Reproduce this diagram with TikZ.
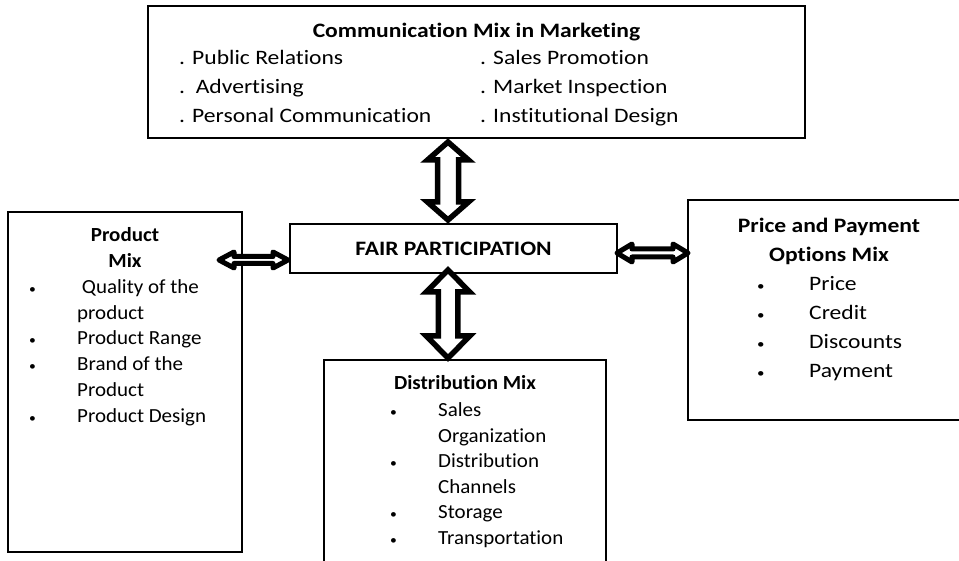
\documentclass[tikz,border=0pt]{standalone}
\usepackage{fontspec}
\setmainfont{Carlito}[FakeStretch=1.05, Ligatures=NoCommon]
\newfontfamily\widefont{Carlito}[FakeStretch=1.15, Ligatures=NoCommon]
\usetikzlibrary{calc}
% hollow double arrow: (from)(to)(shaft half width:head half width:head length)
\def\fatarrow[#1](#2)(#3)(#4:#5:#6){%
	\coordinate (fa0) at (#2);
	\coordinate (fb0) at (#3);
	\coordinate (fa1) at ($(fa0)!#6!(fb0)$);
	\coordinate (fb1) at ($(fb0)!#6!(fa0)$);
	\draw[#1] (fa0) -- ($(fa1)!#5!90:(fb0)$) -- ($(fa1)!#4!90:(fb0)$) -- ($(fb1)!#4!-90:(fa0)$) -- ($(fb1)!#5!-90:(fa0)$) -- (fb0)
		-- ($(fb1)!#5!90:(fa0)$) -- ($(fb1)!#4!90:(fa0)$) -- ($(fa1)!#4!-90:(fb0)$) -- ($(fa1)!#5!-90:(fb0)$) -- cycle;}
\newcommand\itembullet{{\fontsize{13}{13}\selectfont\textbullet}}
\tikzset{
	box/.style={draw, line width=1.5pt, inner sep=0pt, outer sep=0pt, anchor=north west},
	txt/.style={inner sep=0pt, font=\fontsize{20}{25.8}\selectfont},
	widetxt/.style={inner sep=0pt, font=\widefont\fontsize{20.5}{29}\selectfont},
	vert/.style={line width=5.5pt, line join=miter, fill=white},
	horiz/.style={line width=5pt, line join=round, fill=white}
}

\begin{document}
\begin{tikzpicture}[x=1pt, y=-1pt]
			%%%%% START %%%%%
			\useasboundingbox (0,0) rectangle (959,561);
			\clip (0,0) rectangle (959,561);
			
			% the five boxes
			\node[box, line width=2.2pt, minimum width=657pt, minimum height=132pt] (comm) at (148,6) {};
			\node[box, minimum width=327pt, minimum height=49pt] (fair) at (290,224) {};
			\node[box, minimum width=234pt, minimum height=340pt] (prod) at (8,212) {};
			\node[box, minimum width=278pt, minimum height=220pt] (price) at (688,200) {};
			\node[box, minimum width=282pt, minimum height=220pt] (dist) at (324,360) {};
			
			% communication mix
			\node[widetxt, anchor=base] (commtitle) at (476.5,38) {\textbf{Communication Mix in Marketing}};
			\node[widetxt, anchor=base west] (commleft) at (179,65) {\begin{tabular}[t]{@{}l@{}}
				. Public Relations\\
				.\ \ Advertising\\
				. Personal Communication\end{tabular}};
			\node[widetxt, anchor=base west] (commright) at (480,65) {\begin{tabular}[t]{@{}l@{}}
				. Sales Promotion\\
				. Market Inspection\\
				. Institutional Design\end{tabular}};
			
			% centre box
			\node[widetxt, anchor=base] (fairtitle) at (453.5,256) {\textbf{FAIR PARTICIPATION}};
			
			% product mix
			\node[txt, anchor=base] (prodtitle) at (125,241.7) {\begin{tabular}[t]{@{}c@{}}
				\textbf{Product}\\
				\textbf{Mix}\end{tabular}};
			\node[txt, anchor=base west] (prodlist) at (29,293.3) {\begin{tabular}[t]{@{}p{48pt}@{}l@{}}
				\itembullet & \ Quality of the\\
				& product\\
				\itembullet & Product Range\\
				\itembullet & Brand of the\\
				& Product\\
				\itembullet & Product Design\end{tabular}};
			
			% price and payment
			\node[widetxt, anchor=base] (pricetitle) at (829,233) {\begin{tabular}[t]{@{}c@{}}
				\textbf{Price and Payment}\\
				\textbf{Options Mix}\end{tabular}};
			\node[widetxt, font=\widefont\fontsize{20.5}{28.8}\selectfont, anchor=base west] (pricelist) at (757,291) {\begin{tabular}[t]{@{}p{52pt}@{}l@{}}
				\itembullet & Price\\
				\itembullet & Credit\\
				\itembullet & Discounts\\
				\itembullet & Payment\end{tabular}};
			
			% distribution mix
			\node[txt, anchor=base] (disttitle) at (465,390) {\textbf{Distribution Mix}};
			\node[txt, font=\fontsize{20}{25.5}\selectfont, anchor=base west] (distlist) at (390,416.7) {\begin{tabular}[t]{@{}p{48pt}@{}l@{}}
				\itembullet & Sales\\
				& Organization\\
				\itembullet & Distribution\\
				& Channels\\
				\itembullet & Storage\\
				\itembullet & Transportation\end{tabular}};
			
			% double arrows to the centre box
			\coordinate (axis) at (448,200);
			\coordinate (pl) at (219,260);
			\coordinate (pr) at (650,253);
			\fatarrow[vert]($(comm.south -| axis)+(0,4)$)($(fair.north -| axis)+(0,-4)$)(10.5pt:20.5pt:18pt)
			\fatarrow[vert]($(fair.south -| axis)+(0,-3)$)($(dist.north -| axis)+(0,-2)$)(9.75pt:21.75pt:22pt)
			\fatarrow[horiz](pl)($(fair.west |- pl)+(-2,0)$)(3.5pt:8pt:15pt)
			\fatarrow[horiz](fair.east |- pr)(price.west |- pr)(4pt:9pt:15pt)
			
			%%%%% END %%%%%
		\end{tikzpicture}
\end{document}
